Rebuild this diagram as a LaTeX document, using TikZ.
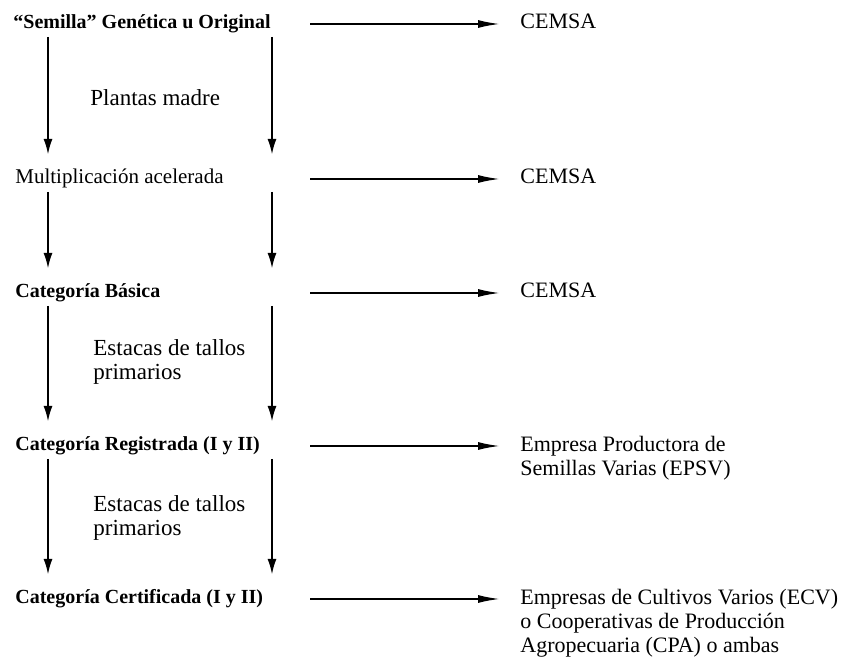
\documentclass[tikz,border=0pt]{standalone}
\usepackage{fontspec}
\setmainfont{Liberation Serif}
\usetikzlibrary{arrows.meta,positioning}

\begin{document}
\begin{tikzpicture}[x=0.5pt, y=-0.5pt,
  level/.style={anchor=west, inner sep=0pt, text height=7pt, text depth=2pt,
    font=\bfseries\fontsize{10}{12}\selectfont},
  via/.style={anchor=west, inner sep=0pt, align=left,
    font=\fontsize{11.5}{12}\selectfont},
  dest/.style={anchor=north west, inner sep=0pt, align=left,
    font=\fontsize{11}{12}\selectfont},
  varr/.style={-{Latex[length=8pt, width=4.5pt]}, line width=1.2pt,
    shorten <=6.5pt, shorten >=12pt},
  harr/.style={-{Latex[length=11pt, width=4pt]}, line width=0.9pt,
    shorten >=10pt}]
\useasboundingbox (0,0) rectangle (853,657);
% columns of the arrows
\coordinate (colL) at (48,0);
\coordinate (colR) at (272,0);
\coordinate (hstart) at (310,0);
% Levels
\node[level] (gen) at (13,24) {``Semilla'' Genética u Original};
\node[level, font=\fontsize{10.5}{12}\selectfont] (mult) at (15,179) {Multiplicación acelerada};
\node[level] (bas) at (15,293) {Categoría Básica};
\node[level] (reg) at (15,446) {Categoría Registrada (I y II)};
\node[level] (cert) at (15,599) {Categoría Certificada (I y II)};
% Between levels
\node[via] (plantas) at (90,98) {Plantas madre};
\node[via] (estacas1) at (93,362) {Estacas de tallos\\primarios};
\node[via] (estacas2) at (93,518) {Estacas de tallos\\primarios};
% Destinations
\node[dest] (cemsa1) at (520,14) {CEMSA};
\node[dest] (cemsa2) at (520,169) {CEMSA};
\node[dest] (cemsa3) at (520,283) {CEMSA};
\node[dest] (epsv) at (520,436) {Empresa Productora de\\Semillas Varias (EPSV)};
\node[dest] (ecv) at (520,589) {Empresas de Cultivos Varios (ECV)\\o Cooperativas de Producción\\Agropecuaria (CPA) o ambas};
% Down arrows
\draw[varr] (colL |- gen) -- (colL |- mult);
\draw[varr] (colR |- gen) -- (colR |- mult);
\draw[varr] (colL |- mult) -- (colL |- bas);
\draw[varr] (colR |- mult) -- (colR |- bas);
\draw[varr] (colL |- bas) -- (colL |- reg);
\draw[varr] (colR |- bas) -- (colR |- reg);
\draw[varr] (colL |- reg) -- (colL |- cert);
\draw[varr] (colR |- reg) -- (colR |- cert);
% Arrows to the right
\draw[harr] (hstart |- gen) -- (gen -| cemsa1.west);
\draw[harr] (hstart |- mult) -- (mult -| cemsa2.west);
\draw[harr] (hstart |- bas) -- (bas -| cemsa3.west);
\draw[harr] (hstart |- reg) -- (reg -| epsv.west);
\draw[harr] (hstart |- cert) -- (cert -| ecv.west);
\end{tikzpicture}
\end{document}
